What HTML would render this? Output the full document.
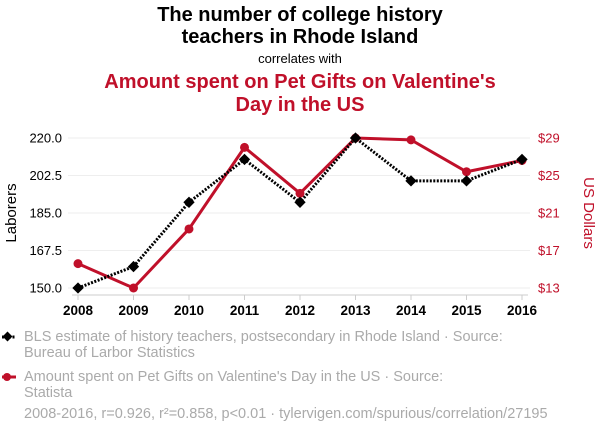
<!DOCTYPE html>
<html><head><meta charset="utf-8"><style>
body{margin:0;background:#fff;width:600px;height:436px;overflow:hidden;font-family:"Liberation Sans",Arial,sans-serif}
</style></head><body>
<svg width="600" height="436" style="font-family:'Liberation Sans',Arial,sans-serif">
<text x="300" y="21" text-anchor="middle" font-size="20" font-weight="bold" fill="#000">The number of college history</text>
<text x="300" y="43" text-anchor="middle" font-size="20" font-weight="bold" fill="#000">teachers in Rhode Island</text>
<text x="300" y="63" text-anchor="middle" font-size="13" fill="#000">correlates with</text>
<text x="300" y="88" text-anchor="middle" font-size="20" font-weight="bold" fill="#c0102a">Amount spent on Pet Gifts on Valentine's</text>
<text x="300" y="111" text-anchor="middle" font-size="20" font-weight="bold" fill="#c0102a">Day in the US</text>
<g id="grid"></g>
<g id="axes"></g>
<g id="series"></g>
<text transform="translate(16,213) rotate(-90)" text-anchor="middle" font-size="15" fill="#000">Laborers</text>
<text transform="translate(584,213) rotate(90)" text-anchor="middle" font-size="15" fill="#c0102a">US Dollars</text>
<g>
<line x1="2" y1="337" x2="16" y2="337" stroke="#000" stroke-width="3" stroke-dasharray="2,1.5"/>
<rect x="4" y="333" width="7" height="7" transform="rotate(45 7.5 336.5)" fill="#000"/>
<text x="24" y="341" font-size="14.5" fill="#aaa">BLS estimate of history teachers, postsecondary in Rhode Island · Source:</text>
<text x="24" y="357" font-size="14.5" fill="#aaa">Bureau of Larbor Statistics</text>
</g>
<g>
<line x1="2" y1="377" x2="16" y2="377" stroke="#c0102a" stroke-width="3"/>
<circle cx="7" cy="377" r="4" fill="#c0102a"/>
<text x="24" y="381" font-size="14.5" fill="#aaa">Amount spent on Pet Gifts on Valentine's Day in the US · Source:</text>
<text x="24" y="397" font-size="14.5" fill="#aaa">Statista</text>
</g>
<text x="24" y="418" font-size="14.5" fill="#aaa">2008-2016, r=0.926, r²=0.858, p&lt;0.01 · tylervigen.com/spurious/correlation/27195</text>
</svg>
<script>
const years=[2008,2009,2010,2011,2012,2013,2014,2015,2016];
const teachers=[150,160,190,210,190,220,200,200,210];
const petGifts=[15.6,13,19.3,28.0,23.1,29.0,28.8,25.4,26.6];
const leftTicks=[150,167.5,185,202.5,220];
const rightTicks=[13,17,21,25,29];
const NS='http://www.w3.org/2000/svg';
const x=i=>78+(522-78)*(i/(years.length-1));
const yL=v=>288-(v-150)/(220-150)*(288-138);
const yR=v=>288-(v-13)/(29-13)*(288-138);
function mk(tag,attrs,parent,text){const e=document.createElementNS(NS,tag);for(const k in attrs)e.setAttribute(k,attrs[k]);if(text!==undefined)e.textContent=text;document.getElementById(parent).appendChild(e);return e;}
leftTicks.forEach((t,i)=>{
 const g=mk('line',{x1:68,x2:530,y1:yL(t),y2:yL(t),stroke:'#eee','stroke-width':1},'grid');
 
 
 const l=mk('text',{x:62,y:yL(t)+4.5,'text-anchor':'end','font-size':13,fill:'#000'},'axes',t.toFixed(1));
 
 
 const r=mk('text',{x:538,y:yR(rightTicks[i])+4.5,'font-size':13,fill:'#c0102a'},'axes','$'+rightTicks[i]);
 
 
});
const ax=mk('line',{x1:72,x2:528,y1:295,y2:295,stroke:'#ccc','stroke-width':1},'axes');


years.forEach((yv,i)=>{
 mk('line',{x1:x(i),x2:x(i),y1:295,y2:300,stroke:'#ccc'},'axes');
 const t=mk('text',{x:x(i),y:315,'text-anchor':'middle','font-size':13.5,'font-weight':'bold',fill:'#000'},'axes',yv);
 
 
});
const rp=mk('polyline',{points:petGifts.map((v,i)=>x(i)+','+yR(v)).join(' '),fill:'none',stroke:'#c0102a','stroke-width':3},'series');


const bp=mk('polyline',{points:teachers.map((v,i)=>x(i)+','+yL(v)).join(' '),fill:'none',stroke:'#000','stroke-width':3,'stroke-dasharray':'2,1.5'},'series');


petGifts.forEach((v,i)=>{
 const c=mk('circle',{cx:x(i),cy:yR(v),r:4.5,fill:'#c0102a'},'series');
 
 
});
teachers.forEach((v,i)=>{
 const d=mk('rect',{x:x(i)-4,y:yL(v)-4,width:8,height:8,fill:'#000',transform:'rotate(45 '+x(i)+' '+yL(v)+')'},'series');
 
 
});
</script>
</body></html>
